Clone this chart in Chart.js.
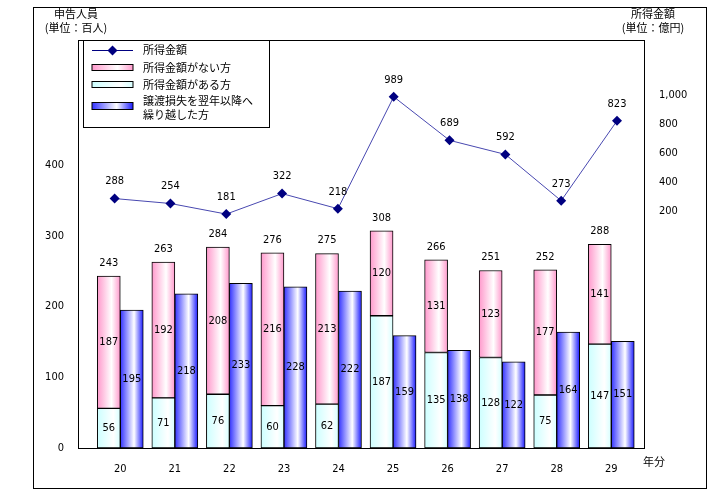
<!DOCTYPE html>
<html>
<head>
<meta charset="utf-8">
<script src="https://cdn.jsdelivr.net/npm/chart.js@4.4.1/dist/chart.umd.min.js"></script>
<style>
  html, body { margin: 0; padding: 0; background: #ffffff; }
  #wrap { width: 723px; height: 500px; position: relative; }
</style>
</head>
<body>
<div id="wrap"><canvas id="c"></canvas></div>
<script>
// ---- data ----
const categories = ['20', '21', '22', '23', '24', '25', '26', '27', '28', '29'];
const withIncome = [56, 71, 76, 60, 62, 187, 135, 128, 75, 147];
const noIncome = [187, 192, 208, 216, 213, 120, 131, 123, 177, 141];
const totals = [243, 263, 284, 276, 275, 308, 266, 251, 252, 288];
const carriedLoss = [195, 218, 233, 228, 222, 159, 138, 122, 164, 151];
const incomeAmount = [288, 254, 181, 322, 218, 989, 689, 592, 273, 823];
const leftTickLabels = [0, 100, 200, 300, 400];
const rightTickLabels = [200, 400, 600, 800, 1000];

const labelLine = '所得金額';
const labelNo = '所得金額がない方';
const labelWith = '所得金額がある方';
const labelLoss = '譲渡損失を翌年以降へ\n繰り越した方';

const JP = "'Noto Sans CJK JP', sans-serif";
const NUM = "'Liberation Sans Narrow', 'DejaVu Sans Condensed', 'Liberation Sans', sans-serif";

const pinkStops = [[0, '#ff99cc'], [0.62, '#ffffff'], [1, '#ff99cc']];
const cyanStops = [[0, '#ccffff'], [0.7, '#ffffff'], [1, '#d6ffff']];
const blueStops = [[0, '#3333ff'], [0.6, '#ffffff'], [1, '#1a1aff']];

function grad(ctx, left, width, stops) {
  const g = ctx.createLinearGradient(left, 0, left + width, 0);
  stops.forEach(s => g.addColorStop(s[0], s[1]));
  return g;
}
function pts(vals) { return vals.map((v, i) => ({ x: i, y: v })); }

const stopsByIndex = { 1: cyanStops, 2: pinkStops, 3: blueStops };

const customPlugin = {
  id: 'custom',
  beforeDatasetsDraw(chart) {
    const ctx = chart.ctx;
    [1, 2, 3].forEach(di => {
      const meta = chart.getDatasetMeta(di);
      meta.data.forEach(el => {
        const left = el.x - el.width / 2;
        el.options = Object.assign({}, el.options, { backgroundColor: grad(ctx, left, el.width, stopsByIndex[di]) });
      });
    });
  },
  afterDraw(chart) {
    const ctx = chart.ctx;
    const ca = chart.chartArea;
    ctx.save();
    // outer frame
    ctx.strokeStyle = '#000';
    ctx.lineWidth = 1;
    ctx.strokeRect(33.5, 7.5, 673, 481);
    // plot frame
    ctx.strokeRect(Math.round(ca.left) + 0.5, Math.round(ca.top) + 0.5, Math.round(ca.right - ca.left), Math.round(ca.bottom - ca.top));

    // value labels
    ctx.fillStyle = '#000';
    ctx.textAlign = 'center';
    ctx.textBaseline = 'middle';
    ctx.font = '11px ' + NUM;
    const mWith = chart.getDatasetMeta(1), mNo = chart.getDatasetMeta(2), mLoss = chart.getDatasetMeta(3), mLine = chart.getDatasetMeta(0);
    mWith.data.forEach((el, i) => ctx.fillText(String(withIncome[i]), el.x, (el.y + el.base) / 2));
    mNo.data.forEach((el, i) => {
      ctx.fillText(String(noIncome[i]), el.x, (el.y + el.base) / 2);
      ctx.fillText(String(totals[i]), el.x, el.y - 13);
    });
    mLoss.data.forEach((el, i) => ctx.fillText(String(carriedLoss[i]), el.x, (el.y + el.base) / 2));
    mLine.data.forEach((el, i) => ctx.fillText(String(incomeAmount[i]), el.x, el.y - 17));

    // axis titles
    ctx.font = '11px ' + JP;
    ctx.fillText('申告人員', 76, 14);
    ctx.fillText('(単位：百人)', 76, 28);
    ctx.fillText('所得金額', 653, 14);
    ctx.fillText('(単位：億円)', 653, 28);
    ctx.fillText('年分', 654, 462);

    // legend
    const lx = 83.5, ly = 40.5, lw = 186, lh = 87;
    ctx.fillStyle = '#fff';
    ctx.fillRect(lx, ly, lw, lh);
    ctx.strokeStyle = '#000';
    ctx.strokeRect(lx, ly, lw, lh);
    const sx = 92, sw = 41, tx = 143;
    // line item
    ctx.strokeStyle = '#000080';
    ctx.lineWidth = 1;
    ctx.beginPath(); ctx.moveTo(sx, 50.5); ctx.lineTo(sx + sw, 50.5); ctx.stroke();
    ctx.fillStyle = '#000080';
    ctx.beginPath();
    const cx = sx + sw / 2, cy = 50.5, r = 5;
    ctx.moveTo(cx, cy - r); ctx.lineTo(cx + r, cy); ctx.lineTo(cx, cy + r); ctx.lineTo(cx - r, cy); ctx.closePath(); ctx.fill();
    // swatches
    const sw1 = [[64.5, 6, pinkStops], [81.5, 6, cyanStops], [102.5, 7, blueStops]];
    sw1.forEach(s => {
      ctx.fillStyle = grad(ctx, sx, sw, s[2]);
      ctx.fillRect(sx, s[0], sw, s[1]);
      ctx.strokeStyle = '#000';
      ctx.strokeRect(sx, s[0], sw, s[1]);
    });
    ctx.fillStyle = '#000';
    ctx.textAlign = 'left';
    ctx.font = '11px ' + JP;
    ctx.fillText(chart.data.datasets[0].label, tx, 50);
    ctx.fillText(chart.data.datasets[2].label, tx, 68);
    ctx.fillText(chart.data.datasets[1].label, tx, 85);
    const lossLines = chart.data.datasets[3].label.split('\n');
    ctx.fillText(lossLines[0], tx, 101);
    ctx.fillText(lossLines[1], tx, 115);
    ctx.restore();
  }
};

new Chart(document.getElementById('c'), {
  data: {
    datasets: [
      {
        type: 'line', label: labelLine, data: pts(incomeAmount), xAxisID: 'x2', yAxisID: 'y2', order: 0,
        borderColor: '#4848b0', borderWidth: 1, pointStyle: 'rectRot', pointRadius: 5,
        pointBackgroundColor: '#000080', pointBorderColor: '#000080', pointBorderWidth: 0, tension: 0
      },
      {
        type: 'bar', label: labelWith, data: pts(withIncome), stack: 's1', xAxisID: 'x', yAxisID: 'y', order: 1,
        backgroundColor: () => '#ccffff', borderColor: '#000', borderWidth: 1, borderSkipped: false
      },
      {
        type: 'bar', label: labelNo, data: pts(noIncome), stack: 's1', xAxisID: 'x', yAxisID: 'y', order: 1,
        backgroundColor: () => '#ff99cc', borderColor: '#000', borderWidth: 1, borderSkipped: false
      },
      {
        type: 'bar', label: labelLoss, data: pts(carriedLoss), stack: 's2', xAxisID: 'x', yAxisID: 'y', order: 1,
        backgroundColor: () => '#3333ff', borderColor: '#000', borderWidth: 1, borderSkipped: false
      }
    ]
  },
  options: {
    responsive: true,
    maintainAspectRatio: false,
    animation: false,
    events: [],
    layout: { padding: { top: 40, left: 0, right: 0, bottom: 0 } },
    datasets: { bar: { barThickness: 23 } },
    plugins: { legend: { display: false }, tooltip: { enabled: false } },
    scales: {
      x: {
        type: 'linear', position: 'bottom', min: -0.775, max: 9.6, stacked: true, offset: false,
        grid: { display: false, offset: false }, border: { display: false },
        afterFit: s => { s.height = 52; },
        afterBuildTicks: s => { s.ticks = categories.map((c, i) => ({ value: i })); },
        ticks: {
          autoSkip: false, maxRotation: 0, padding: 7, color: '#000',
          font: { family: NUM, size: 11 },
          callback: v => (Number.isInteger(v) && categories[v] !== undefined) ? categories[v] : ''
        }
      },
      x2: { type: 'linear', display: false, offset: false, min: -0.656, max: 9.484 },
      y: {
        type: 'linear', position: 'left', min: 0, max: 577, stacked: true,
        grid: { display: false }, border: { display: false },
        afterFit: s => { s.width = 78; },
        afterBuildTicks: s => { s.ticks = leftTickLabels.map(v => ({ value: v })); },
        ticks: { padding: 6, color: '#000', font: { family: NUM, size: 11 }, callback: v => String(v) }
      },
      y2: {
        type: 'linear', position: 'right', min: -1430, max: 1380,
        grid: { display: false }, border: { display: false },
        afterFit: s => { s.width = 79; },
        afterBuildTicks: s => { s.ticks = rightTickLabels.map(v => ({ value: v })); },
        ticks: { padding: 7, color: '#000', font: { family: NUM, size: 11 }, callback: v => v.toLocaleString('en-US') }
      }
    }
  },
  plugins: [customPlugin]
});
</script>
</body>
</html>
